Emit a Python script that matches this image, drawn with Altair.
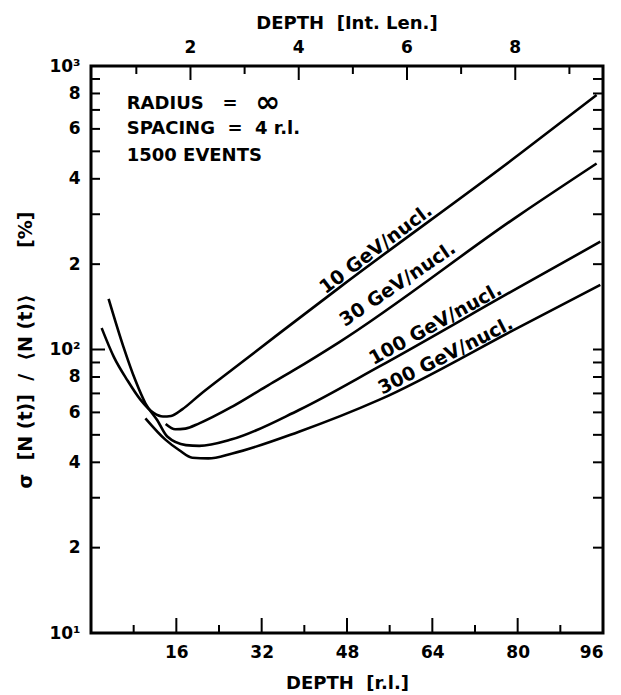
import altair as alt
import pandas as pd

FONT = "DejaVu Sans"
W, H = 512, 567

# ---- curve data (depth in radiation lengths, sigma in %) ----
energy_names = ["10 GeV/nucl.", "30 GeV/nucl.", "100 GeV/nucl.", "300 GeV/nucl."]

depth_10 = [2.0, 4.3, 6.8, 9.3, 11.8, 13.5, 15.0, 17.1, 20.3, 26.5, 35.3, 46.5, 80.3, 94.8]
sigma_10 = [119, 94, 78, 66.4, 59.6, 58.0, 58.3, 61.5, 69, 85, 114, 165, 488, 790]

depth_30 = [14.0, 15.8, 17.7, 20.3, 26.5, 32.8, 37.8, 46.5, 80.3, 94.8]
sigma_30 = [54.6, 52.3, 52.6, 54.9, 62.9, 74, 84, 106, 298, 453]

depth_100 = [3.3, 6.1, 8.3, 10.2, 12.4, 14.3, 17.8, 20.3, 26.4, 39.0, 54.0, 80.3, 95.5]
sigma_100 = [151, 102, 78, 64.6, 56.4, 49.3, 46.0, 45.7, 48.2, 61.2, 87, 166, 240]

depth_300 = [10.2, 14.0, 16.5, 19.0, 22.0, 26.5, 39.0, 54.0, 80.3, 95.5]
sigma_300 = [57.2, 48.0, 44.2, 41.5, 41.3, 43.0, 51.3, 66.4, 120, 169]

# ---- axis ticks / labels ----
x_major = [16, 32, 48, 64, 80, 96]
x_minor = [8, 24, 40, 56, 72, 88]
top_major = [2, 4, 6, 8]          # interaction lengths
top_minor = [1, 3, 5, 7, 9]
RL_PER_IL = 10.15                 # radiation lengths per interaction length
RL_OFFSET = -1.65
y_label_vals = [10, 20, 40, 60, 80, 100, 200, 400, 600, 800, 1000]
y_tick_vals = [20, 30, 40, 50, 60, 70, 80, 90, 200, 300, 400, 500, 600, 700, 800, 900]
y_decade_ticks = [100]

# ---- annotations ----
curve_label_x = [53.4, 57.5, 64.6, 66.5]
curve_label_y = [226, 170, 123, 95]
curve_label_angle = [323, 326, 331, 333]

NB = "\u00a0"
info_lines = ["RADIUS" + NB * 3 + "=",
              "SPACING" + NB * 2 + "=" + NB * 2 + "4 r.l.",
              "1500 EVENTS"]
info_x = [6.7, 6.7, 6.7]
info_y = [735, 598, 481]
inf_symbol = ["\u221e"]
inf_x = [30.8]
inf_y = [740]

# ---- build tables ----
curves = pd.concat([
    pd.DataFrame({"depth": depth_10, "sigma": sigma_10, "energy": energy_names[0]}),
    pd.DataFrame({"depth": depth_30, "sigma": sigma_30, "energy": energy_names[1]}),
    pd.DataFrame({"depth": depth_100, "sigma": sigma_100, "energy": energy_names[2]}),
    pd.DataFrame({"depth": depth_300, "sigma": sigma_300, "energy": energy_names[3]}),
], ignore_index=True)

labels_df = pd.DataFrame({"txt": energy_names, "lx": curve_label_x,
                          "ly": curve_label_y, "ang": curve_label_angle})
info_df = pd.DataFrame({"txt": info_lines, "lx": info_x, "ly": info_y})
inf_df = pd.DataFrame({"txt": inf_symbol, "lx": inf_x, "ly": inf_y})

x_scale = alt.Scale(domain=[0, 96], nice=False, zero=False)
y_scale = alt.Scale(type="log", domain=[10, 1000], nice=False)

y_title = ("\u03c3" + NB * 2 + "[N" + NB + "(t)]" + NB * 2 + "/" + NB * 2 +
           "\u27e8N" + NB + "(t)\u27e9" + NB * 7 + "[%]")

label_expr = ("datum.value == 10 ? '10\u00b9' : datum.value == 100 ? '10\u00b2' : "
              "datum.value == 1000 ? '10\u00b3' : slice(datum.label, 0, 1)")

lines = alt.Chart(curves).mark_line(
    color="black", strokeWidth=2.6, interpolate="monotone"
).encode(
    x=alt.X("depth:Q", scale=x_scale,
            axis=alt.Axis(orient="bottom", values=x_major, format="d",
                          title="DEPTH" + NB * 2 + "[r.l.]",
                          labelPadding=11, titlePadding=14)),
    y=alt.Y("sigma:Q", scale=y_scale,
            axis=alt.Axis(orient="left", values=y_label_vals, format="d",
                          labelExpr=label_expr, titleFontSize=19,
                          title=y_title, labelPadding=11, titlePadding=13)),
    detail="energy:N",
)

rule_style = dict(color="black", strokeWidth=2)
conv = f"datum.il * {RL_PER_IL} + ({RL_OFFSET})"

top_major_df = pd.DataFrame({"il": top_major})
top_minor_df = pd.DataFrame({"il": top_minor})

top_major_ticks = alt.Chart(top_major_df).transform_calculate(depth=conv).mark_rule(**rule_style).encode(
    x=alt.X("depth:Q", scale=x_scale, axis=None),
    y=alt.value(0), y2=alt.value(14),
)
top_labels = alt.Chart(top_major_df).transform_calculate(depth=conv).mark_text(
    font=FONT, fontSize=17, fontWeight="bold", color="black", baseline="bottom", dy=-9
).encode(
    x=alt.X("depth:Q", scale=x_scale, axis=None),
    y=alt.value(0),
    text=alt.Text("il:Q", format="d"),
)
top_minor_ticks = alt.Chart(top_minor_df).transform_calculate(depth=conv).mark_rule(**rule_style).encode(
    x=alt.X("depth:Q", scale=x_scale, axis=None),
    y=alt.value(0), y2=alt.value(8),
)
bot_major_ticks = alt.Chart(pd.DataFrame({"depth": x_major})).mark_rule(**rule_style).encode(
    x=alt.X("depth:Q", scale=x_scale, axis=None),
    y=alt.value(H), y2=alt.value(H - 15),
)
bot_minor_ticks = alt.Chart(pd.DataFrame({"depth": x_minor})).mark_rule(**rule_style).encode(
    x=alt.X("depth:Q", scale=x_scale, axis=None),
    y=alt.value(H), y2=alt.value(H - 8),
)
left_ticks = alt.Chart(pd.DataFrame({"sigma": y_tick_vals})).mark_rule(**rule_style).encode(
    y=alt.Y("sigma:Q", scale=y_scale, axis=None),
    x=alt.value(0), x2=alt.value(9),
)
left_decade = alt.Chart(pd.DataFrame({"sigma": y_decade_ticks})).mark_rule(**rule_style).encode(
    y=alt.Y("sigma:Q", scale=y_scale, axis=None),
    x=alt.value(0), x2=alt.value(14),
)
right_ticks = alt.Chart(pd.DataFrame({"sigma": y_tick_vals + y_decade_ticks})).mark_rule(**rule_style).encode(
    y=alt.Y("sigma:Q", scale=y_scale, axis=None),
    x=alt.value(W), x2=alt.value(W - 10),
)

curve_labels = alt.Chart(labels_df).mark_text(
    font=FONT, fontSize=19, fontWeight="bold", color="black",
    align="center", baseline="middle"
).encode(
    x=alt.X("lx:Q", scale=x_scale, axis=None),
    y=alt.Y("ly:Q", scale=y_scale, axis=None),
    text="txt:N",
    angle=alt.Angle("ang:Q", scale=None),
)

info = alt.Chart(info_df).mark_text(
    font=FONT, fontSize=18, fontWeight="bold", color="black",
    align="left", baseline="middle"
).encode(
    x=alt.X("lx:Q", scale=x_scale, axis=None),
    y=alt.Y("ly:Q", scale=y_scale, axis=None),
    text="txt:N",
)

inf_mark = alt.Chart(inf_df).mark_text(
    font=FONT, fontSize=30, fontWeight="bold", color="black",
    align="left", baseline="middle"
).encode(
    x=alt.X("lx:Q", scale=x_scale, axis=None),
    y=alt.Y("ly:Q", scale=y_scale, axis=None),
    text="txt:N",
)

chart = alt.layer(
    lines, top_major_ticks, top_minor_ticks, top_labels,
    bot_major_ticks, bot_minor_ticks, left_ticks, left_decade, right_ticks,
    curve_labels, info, inf_mark
).resolve_axis(
    x="independent", y="independent"
).properties(
    width=W, height=H,
    title=alt.TitleParams(text="DEPTH" + NB * 2 + "[Int. Len.]", font=FONT, fontSize=18,
                          fontWeight="bold", color="black", offset=6, anchor="middle"),
    padding={"left": 8, "top": 7, "right": 5, "bottom": 5},
    background="white",
).configure_view(
    stroke="black", strokeWidth=3
).configure_axis(
    domain=False, ticks=False, grid=False,
    labelFont=FONT, labelFontSize=17, labelFontWeight="bold", labelColor="black",
    titleFont=FONT, titleFontSize=18, titleFontWeight="bold", titleColor="black",
)

chart.save("out.html", embed_options={"renderer": "svg", "actions": False})
